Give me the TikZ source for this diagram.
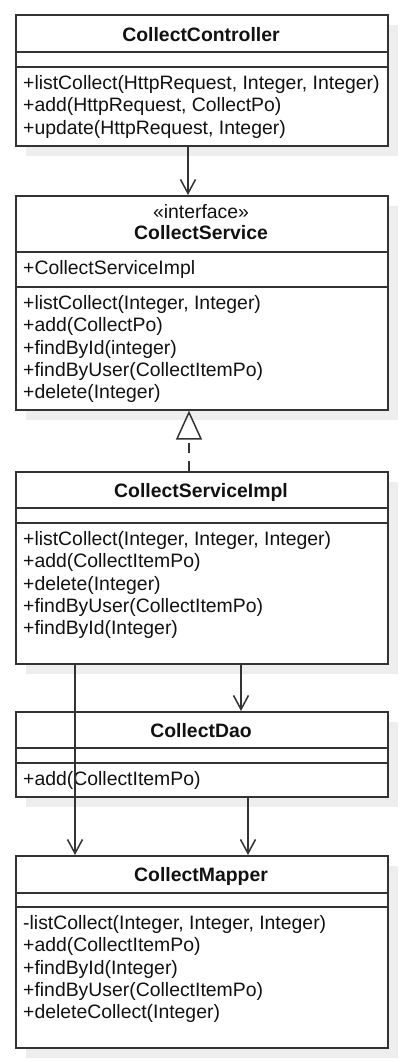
\documentclass[tikz,border=0pt]{standalone}
\usepackage{fontspec}
\setmainfont{Liberation Sans}
\usetikzlibrary{arrows.meta,shadows}
\definecolor{lc}{HTML}{333333}
\definecolor{shc}{HTML}{EEEEEE}
\definecolor{tc}{HTML}{111111}
\tikzset{
  cls/.style={draw=lc, line width=1.6pt, fill=white, anchor=north west, inner sep=0pt,
    minimum width=372pt, drop shadow={shadow xshift=10pt, shadow yshift=-10pt, fill=shc, opacity=1, draw=none}},
  sepline/.style={draw=lc, line width=1.3pt},
  mtxt/.style={anchor=base west, inner sep=0pt, text=tc, font=\fontsize{19.4}{22.3}\selectfont},
  ttxt/.style={anchor=base, inner sep=0pt, text=tc, font=\fontsize{19.4}{22.3}\selectfont\bfseries},
  stxt/.style={anchor=base, inner sep=0pt, text=tc, font=\fontsize{19.4}{22.3}\selectfont},
  dep/.style={draw=lc, line width=1.5pt, -{Straight Barb[length=14pt,width=15pt,line width=1.5pt]}},
  real/.style={draw=lc, line width=1.5pt, dash pattern=on 10pt off 8pt, -{Triangle[open,length=29pt,width=26pt,line width=1.5pt]}}
}
\begin{document}
\begin{tikzpicture}[x=1pt,y=-1pt]
\useasboundingbox (0,0) rectangle (403,1062);
% boxes
\node[cls, minimum height=131pt] (ctrl) at (15,14) {};
\node[cls, minimum height=214pt] (svc) at (15,195) {};
\node[cls, minimum height=192pt] (impl) at (15,471) {};
\node[cls, minimum height=85pt] (dao) at (15,711) {};
\node[cls, minimum height=192pt] (mapper) at (15,855) {};
% separators
\draw[sepline] (15,52) -- (387,52);
\draw[sepline] (15,67) -- (387,67);
\draw[sepline] (15,252) -- (387,252);
\draw[sepline] (15,287) -- (387,287);
\draw[sepline] (15,508) -- (387,508);
\draw[sepline] (15,523) -- (387,523);
\draw[sepline] (15,748) -- (387,748);
\draw[sepline] (15,763) -- (387,763);
\draw[sepline] (15,893) -- (387,893);
\draw[sepline] (15,907) -- (387,907);
% titles
\node[ttxt] (t1) at (201,41.7) {CollectController};
\node[stxt] (t2a) at (201,218.3) {«interface»};
\node[ttxt] (t2) at (201,239.5) {CollectService};
\node[ttxt] (t3) at (201,497.3) {CollectServiceImpl};
\node[ttxt] (t4) at (201,737.3) {CollectDao};
\node[ttxt] (t5) at (201,881.7) {CollectMapper};
% controller methods
\node[mtxt] (c1) at (23,89.6) {+listCollect(HttpRequest, Integer, Integer)};
\node[mtxt] (c2) at (23,111.9) {+add(HttpRequest, CollectPo)};
\node[mtxt] (c3) at (23,134.2) {+update(HttpRequest, Integer)};
% service
\node[mtxt] (s0) at (23,274.8) {+CollectServiceImpl};
\node[mtxt] (s1) at (23,309.4) {+listCollect(Integer, Integer)};
\node[mtxt] (s2) at (23,331.7) {+add(CollectPo)};
\node[mtxt] (s3) at (23,354.0) {+findById(integer)};
\node[mtxt] (s4) at (23,376.3) {+findByUser(CollectItemPo)};
\node[mtxt] (s5) at (23,398.6) {+delete(Integer)};
% impl
\node[mtxt] (i1) at (23,545.6) {+listCollect(Integer, Integer, Integer)};
\node[mtxt] (i2) at (23,567.9) {+add(CollectItemPo)};
\node[mtxt] (i3) at (23,590.2) {+delete(Integer)};
\node[mtxt] (i4) at (23,612.5) {+findByUser(CollectItemPo)};
\node[mtxt] (i5) at (23,634.8) {+findById(Integer)};
% dao
\node[mtxt] (d1) at (23,785.6) {+add(CollectItemPo)};
% mapper
\node[mtxt] (m1) at (23,929.6) {-listCollect(Integer, Integer, Integer)};
\node[mtxt] (m2) at (23,951.9) {+add(CollectItemPo)};
\node[mtxt] (m3) at (23,974.2) {+findById(Integer)};
\node[mtxt] (m4) at (23,996.5) {+findByUser(CollectItemPo)};
\node[mtxt] (m5) at (23,1018.8) {+deleteCollect(Integer)};
% connector x positions
\coordinate (xa) at (188,0);
\coordinate (xt) at (189,0);
\coordinate (xl) at (75,0);
\coordinate (xd) at (241,0);
\coordinate (xm) at (248,0);
% connectors
\draw[dep] (ctrl.south -| xa) -- (svc.north -| xa);
\draw[real] (impl.north -| xt) -- (svc.south -| xt);
\draw[dep] (impl.south -| xd) -- (dao.north -| xd);
\draw[dep] (impl.south -| xl) -- (mapper.north -| xl);
\draw[dep] (dao.south -| xm) -- (mapper.north -| xm);
\end{tikzpicture}
\end{document}
